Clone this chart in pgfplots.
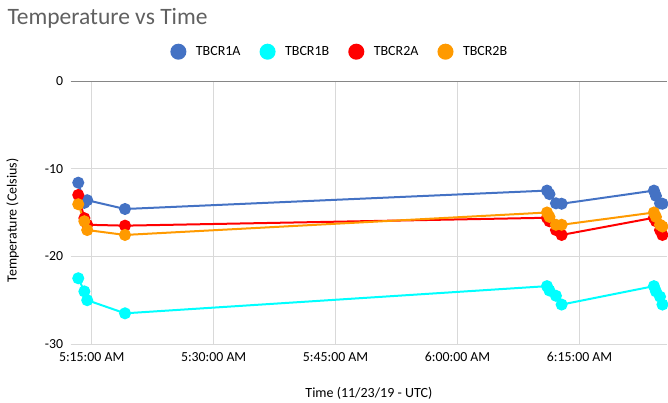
\documentclass[border=0pt]{standalone}
\usepackage{pgfplots}
\pgfplotsset{compat=1.18}
\usepackage{pgfplotstable}
\usepackage{fontspec}
\setmainfont{Carlito}
\definecolor{cblue}{HTML}{4472C4}
\definecolor{ccyan}{HTML}{00FFFF}
\definecolor{cred}{HTML}{FF0000}
\definecolor{corange}{HTML}{FF9A00}
\definecolor{gridgray}{HTML}{D9D9D9}
\definecolor{axisgray}{HTML}{868686}
\definecolor{titlegray}{HTML}{606060}
\pgfplotstableread{
t     a1     b1     a2      b2
13.35 -11.6  -22.5  -13.0   -14.06
14.10 -13.9  -24.0  -15.65  -16.0
14.45 -13.6  -25.0  -16.4   -17.0
19.10 -14.6  -26.5  -16.5   -17.56
71.00 -12.5  -23.4  -15.6   -15.0
71.30 -12.9  -23.9  -16.0   -15.5
72.10 -13.95 -24.5  -17.0   -16.4
72.80 -14.0  -25.5  -17.56  -16.4
84.15 -12.5  -23.4  -15.6   -15.0
84.40 -13.1  -24.0  -16.0   -15.5
84.90 -13.95 -24.6  -17.0   -16.4
85.20 -14.0  -25.5  -17.56  -16.6
}\datatable
\begin{document}
\begin{tikzpicture}
\begin{axis}[
  at={(70.7pt,58pt)}, anchor=south west,
  scale only axis, width=596.3pt, height=263pt,
  xmin=12.42, xmax=85.76, ymin=-30, ymax=0,
  clip=false,
  xtick={15,30,45,60,75},
  xticklabels={5:15:00 AM,5:30:00 AM,5:45:00 AM,6:00:00 AM,6:15:00 AM},
  ytick={-30,-20,-10,0},
  yticklabels={-30,-20,-10,0},
  extra y ticks={0}, extra y tick labels={},
  extra y tick style={major grid style={draw=axisgray, line width=0.9pt}},
  grid=major,
  major grid style={draw=gridgray, line width=0.9pt},
  axis line style={draw=none},
  tick style={draw=none},
  every tick label/.append style={font=\fontsize{13.8}{16}\selectfont, text=black},
  x tick label style={inner sep=0pt, yshift=-8pt},
  y tick label style={inner sep=0pt, xshift=-7.4pt},
  xlabel={Time (11/23/19 - UTC)},
  ylabel={Temperature (Celsius)},
  label style={font=\fontsize{14}{16}\selectfont},
  xlabel style={at={(axis description cs:0.5,-0.2015)}, anchor=base, inner sep=0pt},
  ylabel style={at={(axis description cs:-0.09056,0.4703)}, anchor=base, inner sep=0pt},
  legend columns=4,
  legend style={at={(axis description cs:0.4496,1.1114)}, anchor=center,
    draw=none, fill=none, font=\fontsize{14}{16}\selectfont,
    column sep=0pt, nodes={inner sep=0pt},
    /tikz/every odd column/.append style={column sep=9.5pt},
    /tikz/every even column/.append style={column sep=19pt}},
  legend image code/.code={\fill (0pt,0pt) circle (7pt);},
  every axis plot/.append style={line width=2pt, mark=*, mark size=5pt},
]
\addplot[color=cblue, mark options={fill=cblue, draw=cblue}] table[x=t, y=a1] {\datatable};
\addlegendentry{TBCR1A}
\addplot[color=ccyan, mark options={fill=ccyan, draw=ccyan}] table[x=t, y=b1] {\datatable};
\addlegendentry{TBCR1B}
\addplot[color=cred, mark options={fill=cred, draw=cred}] table[x=t, y=a2] {\datatable};
\addlegendentry{TBCR2A}
\addplot[color=corange, mark options={fill=corange, draw=corange}] table[x=t, y=b2] {\datatable};
\addlegendentry{TBCR2B}
\end{axis}
\node[anchor=base west, inner sep=0pt, text=titlegray, font=\fontsize{23.5}{28}\selectfont] at (7.3pt,377pt) {Temperature vs Time};
\pgfresetboundingbox
\path[use as bounding box] (0pt,0pt) rectangle (668pt,402pt);
\end{tikzpicture}
\end{document}
